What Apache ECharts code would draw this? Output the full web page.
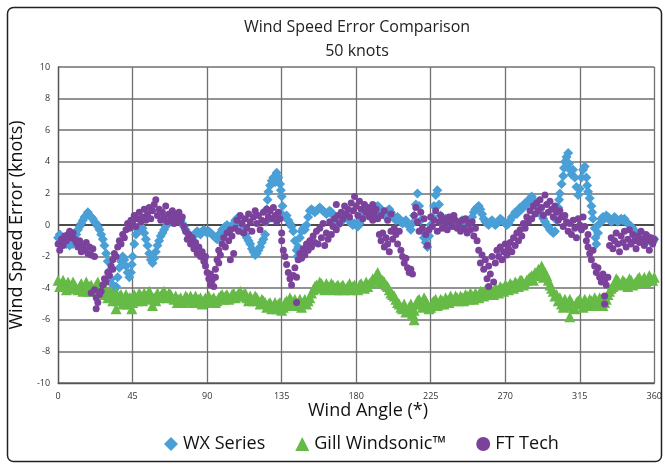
<!DOCTYPE html>
<html>
<head>
<meta charset="utf-8">
<script src="https://cdn.jsdelivr.net/npm/echarts@6/dist/echarts.min.js"></script>
<style>html,body{margin:0;padding:0;background:#fff}#chart{width:665px;height:464px}</style>
</head>
<body>
<div id="chart"></div>
<script>
var titleText = 'Wind Speed Error Comparison';
var subtitleText = '50 knots';
var xAxisName = 'Wind Angle (*)';
var yAxisName = 'Wind Speed Error (knots)';
var seriesNames = ['WX Series', 'Gill Windsonic\u2122', 'FT Tech'];
var xTicks = [0, 45, 90, 135, 180, 225, 270, 315, 360];
var yTicks = [-10, -8, -6, -4, -2, 0, 2, 4, 6, 8, 10];

var wxSeries = [
[0,-0.8],[1,-0.6],[2,-0.9],[3,-1.1],[4,-0.8],[5,-1.2],[6,-1.0],[7,-1.3],[8,-1.1],[9,-1.2],[10,-0.9],[11,-0.6],[12,-0.3],[13,-0.1],[14,0.1],[15,0.3],[16,0.5],[17,0.6],[18,0.8],[19,0.6],[20,0.5],[21,0.4],[22,0.2],[23,0.1],[24,-0.1],[25,-0.3],[26,-0.6],[27,-0.9],[28,-1.3],[29,-1.8],[30,-2.3],[31,-2.9],[32,-3.4],[33,-3.8],[34,-4.1],[35,-3.9],[36,-3.3],[37,-2.7],[38,-2.3],[39,-2.0],[40,-2.2],[41,-2.6],[42,-3.0],[43,-3.3],[44,-3.0],[44.5,-2.5],[45,-2.0],[46,-1.2],[47,-0.6],[48,-0.3],[49,-0.2],[50,-0.1],[51,-0.2],[52,-0.5],[53,-0.9],[54,-1.3],[55,-1.8],[56,-2.2],[57,-2.4],[58,-2.1],[59,-1.7],[60,-1.3],[61,-1.0],[62,-0.7],[63,-0.5],[64,-0.3],[65,-0.1],[66,0.1],[67,0.2],[68,0.3],[69,0.4],[70,0.5],[71,0.6],[72,0.5],[73,0.4],[74,0.3],[75,0.1],[76,-0.1],[77,-0.3],[78,-0.5],[79,-0.6],[80,-0.7],[81,-0.8],
[82,-0.7],[83,-0.5],[84,-0.4],[85,-0.5],[86,-0.6],[87,-0.4],[88,-0.3],[89,-0.4],[90,-0.5],[91,-0.4],[92,-0.5],[93,-0.6],[94,-0.7],[95,-0.8],[96,-0.9],[97,-0.7],[98,-0.5],[99,-0.3],[100,-0.2],[101,-0.1],[102,0.0],[103,-0.2],[104,-0.3],[105,-0.1],[106,0.1],[107,0.3],[108,0.4],[109,0.5],[110,0.3],[111,0.0],[112,-0.3],[113,-0.6],[114,-0.8],[115,-1.0],[116,-1.2],[117,-1.5],[118,-1.7],[119,-1.9],[120,-1.8],[121,-1.6],[122,-1.4],[123,-1.1],[124,-0.9],[125,-0.6],[125.5,0.2],[126,1.0],[126.5,1.6],[127,2.1],[128,2.5],[129,2.8],[130,3.0],[131,2.7],[131.5,3.1],[132,3.3],[133,3.0],[134,2.6],[134.5,2.2],[135,1.8],[135.5,1.2],[136,0.6],[137,0.5],[138,0.6],[139,0.3],[140,0.1],[141,-0.1],[142,-0.4],[143,-1.0],[144,-1.6],[144.5,-2.0],[145,-1.4],[146,-0.8],[147,-0.4],[148,-0.2],[149,-0.3],[150,0.0],[151,0.5],[152,0.9],[153,1.0],[154,0.9],[155,0.8],[156,0.9],[157,1.0],[158,1.1],[159,1.0],[160,0.9],[161,0.8],[162,0.7],[163,0.8],[164,0.9],[165,0.8],[166,0.6],[167,0.3],[168,0.1],[169,0.0],[170,0.1],[171,0.2],[172,0.4],[173,0.5],[174,0.6],[175,0.4],[176,0.3],[177,0.1],[178,0.0],[179,0.1],[180,0.0],[181,-0.1],[182,0.1],[183,0.3],[184,0.6],[185,0.9],[186,1.1],[187,1.0],[188,0.8],[189,0.7],[190,0.6],[191,0.8],[192,1.0],[193,1.2],[194,1.1],[195,0.9],[196,0.8],[197,0.6],[198,0.7],[199,0.9],[200,1.0],[201,0.8],[202,0.6],[203,0.4],[204,0.3],[205,0.5],[206,0.4],[207,0.2],[208,0.1],[209,0.2],[210,0.3],[211,0.1],[212,-0.1],[213,-0.3],[214,0.1],[215,0.6],[216,1.3],[217,2.0],[218,1.2],[219,0.3],[220,-0.4],[221,-0.8],[222,-1.1],[223,-1.4],[224,-0.7],[225,0.0],[226,0.5],[227,1.2],[228,1.9],[229,2.2],[230,1.3],[231,0.6],[232,0.1],
[233,0.2],[234,0.4],[235,0.3],[236,0.1],[237,0.3],[238,0.5],[239,0.3],[240,0.1],[241,-0.1],[242,0.0],[243,0.2],[244,0.3],[245,0.1],[246,0.0],[247,-0.1],[248,0.1],[249,0.3],[250,0.5],[251,0.8],[252,1.0],[253,1.1],[254,1.2],[255,1.0],[256,0.7],[257,0.4],[258,0.2],[259,0.1],[260,0.0],[261,0.2],[262,0.3],[263,0.1],[264,0.0],[265,0.1],[266,0.2],[267,0.4],[268,0.3],[269,0.2],[270,0.1],[271,0.0],[272,0.1],[273,0.3],[274,0.5],[275,0.6],[276,0.8],[277,0.7],[278,0.9],[279,1.1],[280,1.0],[281,1.2],[282,1.4],[283,1.3],[284,1.5],[285,1.7],[286,1.8],[287,1.6],[288,1.4],[289,1.2],[290,1.0],[291,0.8],[292,0.6],[293,0.4],[294,0.2],[295,0.0],[296,-0.1],[297,-0.3],[298,-0.4],[299,-0.5],[300,-0.4],[301,0.3],[302,1.1],[302.5,1.6],[303,2.0],[304,2.6],[305,3.1],[305.5,3.6],[306,4.0],[307,4.3],[308,4.55],[308.5,3.9],[309,3.5],[310,3.2],[311,3.5],[312,3.0],[313,2.4],[314,1.9],[315,2.3],[316,3.0],[317,3.5],[318,3.7],[319,3.0],[319.5,2.5],[320,2.1],[321,1.7],[322,1.2],[322.5,0.8],[323,0.4],[324,-0.2],[324.5,-0.8],[325,-1.2],[326,-0.5],[327,0.1],[328,0.4],[329,0.5],[330,0.4],[331,0.6],[332,0.5],[333,0.4],[334,0.2],[335,0.3],[336,0.5],[337,0.4],[338,0.2],[339,0.3],[340,0.4],[341,0.3],[342,0.4],[343,0.2],[344,0.1],[345,0.0],[346,-0.1],[347,-0.2],[348,-0.4],[349,-0.5],[350,-0.6],[351,-0.8],[352,-0.7],[353,-0.6],[354,-0.8],[355,-0.9],[356,-1.0],[357,-0.8],[358,-1.0],[359,-1.1],[360,-0.9]
];

var gillWindsonic = [
[0,-3.5],[2,-3.7],[4,-3.9],[6,-3.6],[8,-4.0],[10,-3.8],[12,-4.1],[14,-3.7],[16,-3.9],[18,-4.2],[20,-3.8],[22,-4.0],[24,-3.6],[26,-4.1],[28,-4.4],[30,-4.6],[32,-4.2],[34,-4.5],[35,-5.3],[36,-4.8],[38,-4.4],[40,-4.7],[42,-5.0],[44,-4.6],[44.5,-5.3],[46,-4.4],[48,-4.8],[50,-4.5],[52,-4.3],[54,-4.7],[56,-4.4],[57,-5.1],[58,-4.6],[60,-4.3],[62,-4.5],[64,-4.2],[66,-4.6],[68,-4.4],[70,-4.7],[72,-4.9],[74,-4.6],[76,-4.8],[78,-4.6],[80,-4.5],[82,-4.7],[84,-4.9],[86,-4.6],[88,-4.8],[90,-4.7],[92,-4.9],[94,-4.6],[96,-4.8],[98,-4.5],[100,-4.7],[102,-4.4],[104,-4.6],[106,-4.3],[108,-4.5],[110,-4.2],[112,-4.4],[114,-4.6],[116,-4.5],[118,-4.8],[120,-4.6],[122,-5.0],[124,-4.8],[126,-5.2],[128,-4.9],[130,-5.1],[132,-5.3],[134,-4.9],[136,-5.2],[138,-4.8],[140,-4.6],[142,-4.9],[144,-5.1],[146,-4.7],[148,-4.9],[150,-5.0],[152,-4.6],[154,-4.1],[156,-3.8],[158,-3.6],[160,-3.9],[162,-3.7],[164,-4.0],[166,-3.8],[168,-3.9],[170,-4.1],[172,-3.8],[174,-4.0],[176,-3.7],[178,-3.9],[180,-4.0],[182,-3.8],[184,-3.9],[186,-3.6],[188,-3.7],[190,-3.4],[192,-3.2],[194,-3.3],[196,-3.5],[198,-3.8],[200,-4.1],[202,-4.4],[204,-4.7],[206,-5.0],[208,-5.3],[210,-5.5],[212,-5.2],[214,-5.6],[215,-6.0],[216,-5.0],[218,-4.7],[220,-5.2],[222,-4.8],[224,-5.3],[226,-4.9],[228,-4.7],[230,-5.0],[232,-4.8],[234,-4.6],[236,-4.9],[238,-4.7],[240,-4.5],[242,-4.8],[244,-4.6],[246,-4.4],[248,-4.7],[250,-4.5],[252,-4.3],[254,-4.6],[256,-4.3],[258,-4.1],[260,-4.4],[262,-4.2],[264,-4.0],[266,-4.3],[268,-4.0],[270,-3.8],[272,-4.1],[274,-3.8],[276,-3.6],[278,-3.9],[280,-3.5],[282,-3.7],[284,-3.4],[286,-3.2],[288,-3.0],[290,-2.8],[292,-2.6],[294,-3.0],[296,-3.5],[298,-4.0],[300,-4.5],[302,-4.8],[304,-5.0],[306,-4.7],[308,-5.1],[309,-5.8],[310,-4.9],[312,-5.3],[314,-4.8],[316,-5.0],[318,-4.7],[320,-5.1],[322,-4.8],[324,-4.6],[326,-5.0],[328,-4.7],[330,-4.9],[332,-4.4],[334,-4.0],[336,-3.7],[338,-3.5],[340,-3.8],[342,-3.6],[344,-3.9],[346,-3.5],[348,-3.7],[350,-3.4],[352,-3.6],[354,-3.3],[356,-3.5],[358,-3.4],[360,-3.3],
[1,-3.9],[3,-3.5],[5,-4.1],[7,-3.8],[9,-3.6],[11,-4.0],[13,-3.9],[15,-4.2],[17,-3.6],[19,-3.9],[21,-4.2],[23,-3.8],[25,-4.2],[27,-3.9],[29,-4.1],[31,-4.3],[33,-4.8],[35,-4.3],[37,-4.5],[39,-5.0],[41,-4.4],[43,-4.6],[45,-4.9],[47,-4.6],[49,-4.3],[51,-4.8],[53,-4.5],[55,-4.2],[57,-4.6],[59,-4.8],[61,-4.6],[63,-4.3],[65,-4.5],[67,-4.3],[69,-4.6],[71,-4.5],[73,-4.7],[75,-4.9],[77,-4.5],[79,-4.8],[81,-4.9],[83,-4.5],[85,-4.7],[87,-5.0],[89,-4.6],[91,-4.5],[93,-4.7],[95,-4.9],[97,-4.6],[99,-4.4],[101,-4.5],[103,-4.7],[105,-4.4],[107,-4.6],[109,-4.3],[111,-4.5],[113,-4.3],[115,-4.8],[117,-4.7],[119,-4.5],[121,-4.8],[123,-4.7],[125,-4.9],[127,-5.0],[129,-5.3],[131,-4.9],[133,-5.0],[135,-5.4],[137,-4.9],[139,-5.1],[141,-4.8],[143,-4.7],[145,-4.9],[147,-5.2],[149,-4.7],[151,-4.8],[153,-4.3],[155,-3.9],[157,-4.0],[159,-3.7],[161,-4.1],[163,-3.9],[165,-3.7],[167,-4.1],[169,-3.8],[171,-3.9],[173,-4.1],[175,-3.9],[177,-4.1],[179,-3.8],[181,-4.1],[183,-3.7],[185,-4.0],[187,-3.9],[189,-3.6],[191,-3.5],[193,-3.0],[195,-3.6],[197,-3.6],[199,-3.9],[201,-4.3],[203,-4.5],[205,-4.9],[207,-5.2],[209,-5.0],[211,-5.4],[213,-5.0],[215,-5.4],[217,-4.8],[219,-5.0],[221,-4.6],[223,-5.0],[225,-5.2],[227,-4.8],[229,-5.1],[231,-4.7],[233,-5.0],[235,-4.8],[237,-4.5],[239,-4.8],[241,-4.6],[243,-4.5],[245,-4.8],[247,-4.5],[249,-4.3],[251,-4.7],[253,-4.5],[255,-4.2],[257,-4.5],[259,-4.2],[261,-4.1],[263,-4.4],[265,-4.1],[267,-3.9],[269,-4.2],[271,-3.9],[273,-3.7],[275,-4.0],[277,-3.7],[279,-3.5],[281,-3.8],[283,-3.5],[285,-3.3],[287,-3.5],[289,-3.2],[291,-2.9],[293,-3.3],[295,-3.2],[297,-3.8],[299,-4.2],[301,-4.4],[303,-4.6],[305,-5.2],[307,-4.9],[309,-4.7],[311,-5.2],[313,-4.9],[315,-4.7],[317,-5.2],[319,-4.9],[321,-4.7],[323,-5.1],[325,-4.8],[327,-4.6],[329,-5.1],[331,-4.7],[333,-4.2],[335,-3.9],[337,-3.4],[339,-3.7],[341,-3.5],[343,-3.7],[345,-3.4],[347,-3.8],[349,-3.6],[351,-3.3],[353,-3.5],[355,-3.6],[357,-3.2],[359,-3.5]
];

var ftTech = [
[0,-1.2],[1,-1.6],[2,-0.9],[3,-1.3],[4,-0.7],[5,-1.0],[6,-0.6],[7,-0.4],[8,-0.8],[9,-0.5],[10,-0.9],[11,-1.1],[12,-1.4],[13,-1.0],[14,-1.7],[15,-1.3],[16,-1.6],[17,-1.1],[18,-1.8],[19,-1.4],[20,-1.9],[21,-1.5],[22,-2.0],
[20,-4.3],[22,-4.1],[23,-4.6],[24,-4.9],[25,-4.4],[23,-5.3],[26,-4.2],
[27,-3.8],[28,-3.4],[29,-3.6],[30,-3.0],[31,-3.2],[32,-2.6],[33,-2.8],[33,-2.2],[34,-1.8],[35,-2.0],[36,-1.4],[37,-1.0],[38,-1.2],[39,-0.6],[40,-0.8],[41,-0.3],[42,0.1],[43,-0.2],[44,0.3],
[45,0.2],[46,0.6],[47,-0.1],[48,0.4],[49,0.8],[50,0.2],[51,0.5],[52,1.0],[53,0.3],[54,0.7],[55,1.1],[56,0.4],[57,0.9],[58,1.3],[59,1.6],[60,0.6],[61,1.0],[62,0.3],[63,0.8],[64,0.5],[65,1.2],[66,0.2],[67,0.7],[68,0.4],[69,0.9],[70,0.1],[71,0.6],[72,0.3],[73,0.8],[74,0.2],[75,0.5],[76,-0.1],
[77,-0.4],[78,-0.9],[79,-0.6],[80,-1.2],[81,-0.8],[82,-1.5],[83,-1.1],[84,-1.8],[85,-1.4],[86,-2.0],[87,-1.7],[88,-2.3],[89,-2.6],[89,-2.0],
[90,-3.0],[91,-3.4],[92,-3.8],[92,-3.1],[93,-3.5],[94,-3.9],[95,-3.3],[95,-2.8],
[96,-2.2],[97,-1.6],[98,-1.9],[99,-1.2],[100,-0.8],[101,-1.4],[102,-0.5],[103,-1.0],[104,-0.3],[105,-0.7],[106,-1.8],[107,-0.2],[97,-2.4],[104,-2.2],
[108,0.3],[109,-0.4],[110,0.6],[111,0.1],[112,-0.5],[113,0.4],[114,-0.2],[115,0.7],[116,0.2],[117,-0.4],[118,0.5],[119,0.9],[120,0.1],[121,0.6],[122,-0.3],[123,0.3],[124,0.8],[125,0.2],[126,1.0],[127,0.5],[128,0.9],[129,0.4],[130,1.1],[131,0.6],[132,0.2],[133,0.8],[134,0.4],
[135,-0.5],[135,-1.0],[136,-1.6],[137,-2.0],[138,-2.5],[139,-3.0],[140,-3.4],[141,-3.8],[142,-3.2],[143,-2.7],[144,-4.9],[144,-3.3],
[145,-2.2],[146,-1.8],[147,-2.1],[148,-1.5],[149,-1.9],[150,-1.2],[151,-1.6],[152,-1.0],[153,-1.4],[154,-0.7],[155,-1.1],
[156,-0.4],[157,-1.2],[158,-0.2],[159,-0.8],[160,0.1],[161,-1.3],[162,-0.5],[163,-0.9],[164,0.2],[165,-0.6],[166,-0.1],[167,0.4],[168,-0.3],[169,0.6],[170,0.1],
[171,0.8],[172,0.4],[173,1.2],[174,0.7],[175,1.0],[176,0.5],[177,1.4],[178,0.9],[179,1.8],[180,1.2],[181,0.6],[182,1.5],[183,1.0],[184,0.4],[185,1.3],[186,0.8],[187,1.1],[188,0.5],[189,0.9],[190,0.3],[191,0.7],[192,1.0],[193,0.4],[168,1.3],[190,1.3],
[194,-0.6],[195,-1.0],[196,-0.5],[197,-1.4],[198,-0.8],[199,-1.2],[200,-1.7],[201,-0.4],[202,-0.9],[203,-0.2],[195,0.6],[197,0.9],[199,0.3],[201,0.7],
[204,-0.6],[205,-1.2],[206,-0.4],[207,-1.6],[208,-2.0],[209,-2.4],[210,-2.1],[211,-2.7],[212,-3.0],[213,-2.8],[214,-3.1],
[215,0.6],[216,1.1],[217,0.2],[218,-0.4],[219,0.8],[220,-0.2],[221,0.4],[222,-0.6],[223,-1.3],[224,-0.3],[225,0.5],[226,-0.1],[227,0.3],[228,0.9],[229,-0.4],[230,0.2],[231,0.6],[232,-0.2],[233,0.4],[234,0.1],[235,-0.3],[236,0.5],[237,0.2],[238,-0.1],[239,0.6],[240,0.3],[241,-0.2],[242,0.1],
[243,-0.4],[244,0.3],[245,-0.2],[246,0.4],[247,-0.5],[248,0.1],[249,-0.3],[250,0.2],[251,-0.7],[252,-0.2],[253,-1.0],
[254,-1.6],[255,-2.4],[256,-1.9],[257,-2.8],[258,-2.2],[259,-3.4],[260,-3.9],[260,-2.6],[261,-3.1],[262,-2.0],[263,-3.6],[264,-2.4],[265,-1.6],[266,-2.0],[267,-1.4],[268,-2.2],[269,-1.7],[270,-1.2],[271,-1.9],[272,-1.5],[273,-1.1],[274,-1.7],[275,-0.8],[276,-1.3],
[277,-0.5],[278,-1.0],[279,-0.3],[280,-0.7],[281,0.1],[282,-0.2],[283,0.5],[284,0.2],[285,0.9],[286,0.4],[287,1.2],[288,0.7],[289,1.4],[290,0.9],[291,1.6],[292,1.1],[293,0.6],[294,1.9],[295,1.3],[296,0.8],[297,1.5],[298,1.0],[299,0.5],[300,1.2],[301,0.8],[302,0.3],[303,0.9],[304,0.5],[305,-0.1],[306,0.6],
[307,0.2],[308,-0.4],[309,0.1],[310,-0.6],[311,0.3],[312,-0.2],[313,-0.8],[314,0.4],[315,0.0],[316,-0.3],[317,0.5],[318,-0.1],[319,-1.0],[320,-0.6],
[320,-1.4],[321,-1.8],[322,-2.2],[323,-1.6],[324,-2.6],[325,-3.0],[326,-2.7],[327,-3.3],[328,-3.6],[329,-3.1],[330,-3.5],[331,-3.8],[330,-4.5],[330,-5.0],[332,-3.3],
[333,-1.3],[334,-0.8],[335,-1.5],[336,-1.0],[337,-0.5],[338,-1.2],[339,-1.7],[340,-0.7],[341,-1.1],[342,-0.4],[343,-1.4],[344,-0.9],[345,-0.3],[346,-1.2],[347,-0.6],[348,-1.0],[349,-1.5],[350,-0.7],[351,-1.1],[352,-0.4],[353,-0.9],[354,-1.3],[355,-0.6],[356,-1.0],[357,-1.6],[358,-0.8],[359,-1.2],[360,-0.9]
];

var FONT = '"Open Sans", "DejaVu Sans", sans-serif';
var chart = echarts.init(document.getElementById('chart'), null, {renderer: 'canvas'});

var ySplitColors = yTicks.map(function (v) { return v === 0 ? '#111' : '#6f6f6f'; });

chart.setOption({
  animation: false,
  backgroundColor: '#fff',
  title: {
    text: titleText + '\n' + subtitleText,
    left: 352, top: 10, textAlign: 'center',
    textStyle: {fontFamily: FONT, fontSize: 16, fontWeight: 'normal', color: '#222', lineHeight: 24}
  },
  grid: {left: 57, right: 8, top: 67, bottom: 81, containLabel: false},
  legend: {
    top: 430, left: 159, itemGap: 30, itemWidth: 14, itemHeight: 14,
    textStyle: {fontFamily: FONT, fontSize: 18, color: '#111'},
    data: [
      {name: seriesNames[0], icon: 'diamond'},
      {name: seriesNames[1], icon: 'triangle'},
      {name: seriesNames[2], icon: 'circle'}
    ]
  },
  xAxis: {
    type: 'value', min: xTicks[0], max: xTicks[xTicks.length - 1], interval: 45,
    axisLine: {show: true, onZero: false, lineStyle: {color: '#555', width: 1.3}},
    axisTick: {show: false},
    axisLabel: {fontFamily: FONT, fontSize: 9, color: '#333', margin: 9},
    splitLine: {show: true, lineStyle: {color: '#6f6f6f', width: 1.3}}
  },
  yAxis: {
    type: 'value', min: yTicks[0], max: yTicks[yTicks.length - 1], interval: 2,
    name: yAxisName, nameLocation: 'middle', nameGap: 23,
    nameTextStyle: {fontFamily: FONT, fontSize: 18, color: '#111'},
    axisLine: {show: true, lineStyle: {color: '#555', width: 1.3}},
    axisTick: {show: false},
    axisLabel: {fontFamily: FONT, fontSize: 9, color: '#333', margin: 8},
    splitLine: {show: true, lineStyle: {color: ySplitColors, width: 1.5}}
  },
  graphic: [
    {type: 'rect', left: 5, top: 5, shape: {width: 654, height: 454, r: 6}, style: {fill: 'none', stroke: '#222', lineWidth: 1.5}, silent: true, z: -1},
    {type: 'text', left: 308, top: 402, style: {text: xAxisName, font: '18px ' + FONT, fill: '#111'}}
  ],
  series: [
    {name: seriesNames[0], type: 'scatter', symbol: 'diamond', symbolSize: 10, data: wxSeries, itemStyle: {color: '#4a9fd6', opacity: 1}},
    {name: seriesNames[1], type: 'scatter', symbol: 'triangle', symbolSize: 11, data: gillWindsonic, itemStyle: {color: '#66ba46', opacity: 1}},
    {name: seriesNames[2], type: 'scatter', symbol: 'circle', symbolSize: 7, data: ftTech, itemStyle: {color: '#7b429c', opacity: 1}}
  ]
});
</script>
</body>
</html>
